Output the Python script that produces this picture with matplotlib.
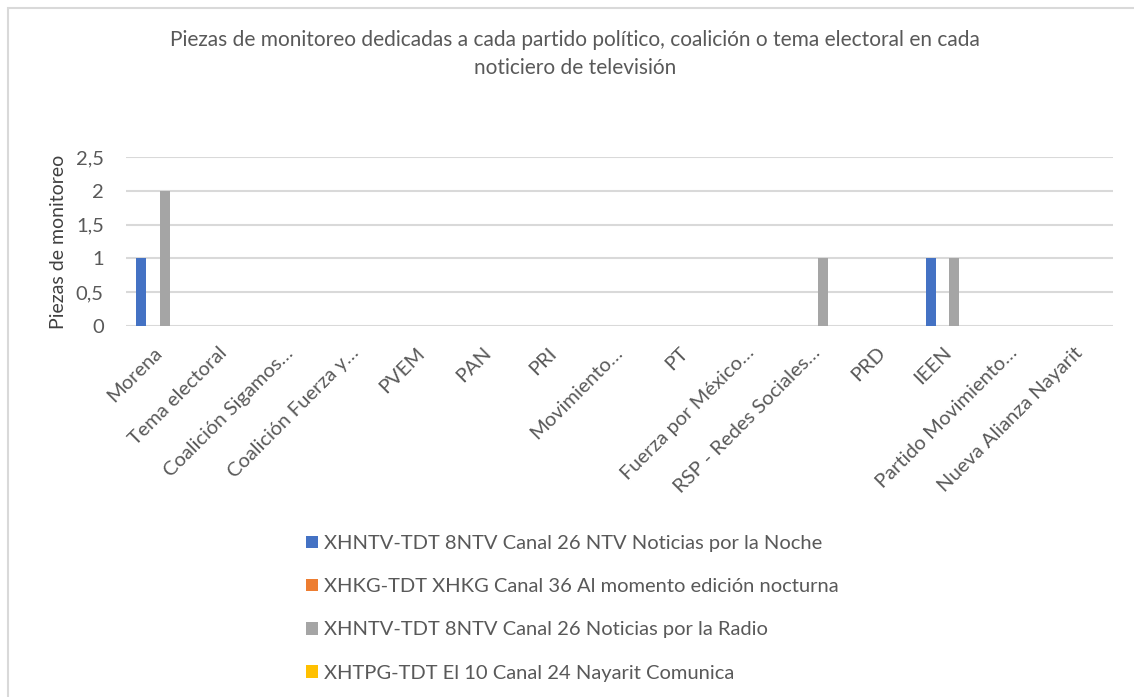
import matplotlib
matplotlib.use("Agg")
import matplotlib.pyplot as plt
import matplotlib.transforms as mtransforms
from matplotlib.patches import Rectangle
import numpy as np

# Datos del grafico
categorias = ["Morena", "Tema electoral", "Coalición Sigamos…", "Coalición Fuerza y…",
              "PVEM", "PAN", "PRI", "Movimiento…", "PT", "Fuerza por México…",
              "RSP - Redes Sociales…", "PRD", "IEEN", "Partido Movimiento…",
              "Nueva Alianza Nayarit"]
series = ["XHNTV-TDT 8NTV Canal 26 NTV Noticias por la Noche",
          "XHKG-TDT XHKG Canal 36 Al momento edición nocturna",
          "XHNTV-TDT 8NTV Canal 26 Noticias por la Radio",
          "XHTPG-TDT El 10 Canal 24 Nayarit Comunica"]
ntv_noche = [1, 0, 0, 0, 0, 0, 0, 0, 0, 0, 0, 0, 1, 0, 0]
xhkg = [0, 0, 0, 0, 0, 0, 0, 0, 0, 0, 0, 0, 0, 0, 0]
ntv_radio = [2, 0, 0, 0, 0, 0, 0, 0, 0, 0, 1, 0, 1, 0, 0]
nayarit = [0, 0, 0, 0, 0, 0, 0, 0, 0, 0, 0, 0, 0, 0, 0]
colores = ["#4472C4", "#ED7D31", "#A5A5A5", "#FFC000"]

plt.rcParams['font.family'] = ['Lato', 'DejaVu Sans']
gris = "#595959"

W, H = 1134, 697
fig = plt.figure(figsize=(W / 100, H / 100), dpi=100)

# borde del grafico (solo arriba e izquierda se ven)
fig.patches.append(Rectangle((8 / W, -0.1), 1.2, 1.1 - 8 / H, transform=fig.transFigure,
                             fill=False, edgecolor="#D9D9D9", linewidth=1.5))

n = len(categorias)
ax = fig.add_axes([126 / W, (H - 326) / H, (1113 - 126) / W, (326 - 157) / H])
x = np.arange(n)
paso = 0.182
ancho = 0.152
for i, (vals, col, nom) in enumerate(zip([ntv_noche, xhkg, ntv_radio, nayarit], colores, series)):
    ax.bar(x + (i - 1.5) * paso, vals, width=ancho, color=col, label=nom, zorder=3)

ax.set_xlim(-0.5, n - 0.5)
ax.set_ylim(0, 2.5)
ax.set_yticks([0, 0.5, 1, 1.5, 2, 2.5])
ax.set_yticklabels(["0", "0,5", "1", "1,5", "2", "2,5"], fontsize=14.5, color=gris)
ax.grid(axis="y", color="#D9D9D9", linewidth=1.5, zorder=0)
for s in ax.spines.values():
    s.set_visible(False)
ax.tick_params(axis="both", length=0)
ax.tick_params(axis="y", pad=16)
ax.set_xticks(x)
ax.set_xticklabels(categorias, rotation=45, ha="right", va="top", rotation_mode="anchor",
                   fontsize=14.5, color=gris)
ax.tick_params(axis="x", pad=8)
# mover un poco las etiquetas hacia abajo a la izquierda
desp = mtransforms.ScaledTranslation(-6 / 100, -7 / 100, fig.dpi_scale_trans)
for lab in ax.get_xticklabels():
    lab.set_transform(lab.get_transform() + desp)
ax.set_ylabel("Piezas de monitoreo", fontsize=14, color="#404040", labelpad=6)

fig.text(0.507, 1 - 54 / H, "Piezas de monitoreo dedicadas a cada partido político, coalición o tema electoral en cada\nnoticiero de televisión",
         ha="center", va="center", fontsize=15, color=gris, linespacing=1.45)

fig.legend(loc="upper left", bbox_to_anchor=(306 / W, 1 - 535 / H), frameon=False,
           fontsize=14.5, labelcolor=gris, handlelength=0.6, handleheight=0.6,
           handletextpad=0.3, labelspacing=1.3, borderpad=0, borderaxespad=0)

fig.savefig("out.png", dpi=100)
